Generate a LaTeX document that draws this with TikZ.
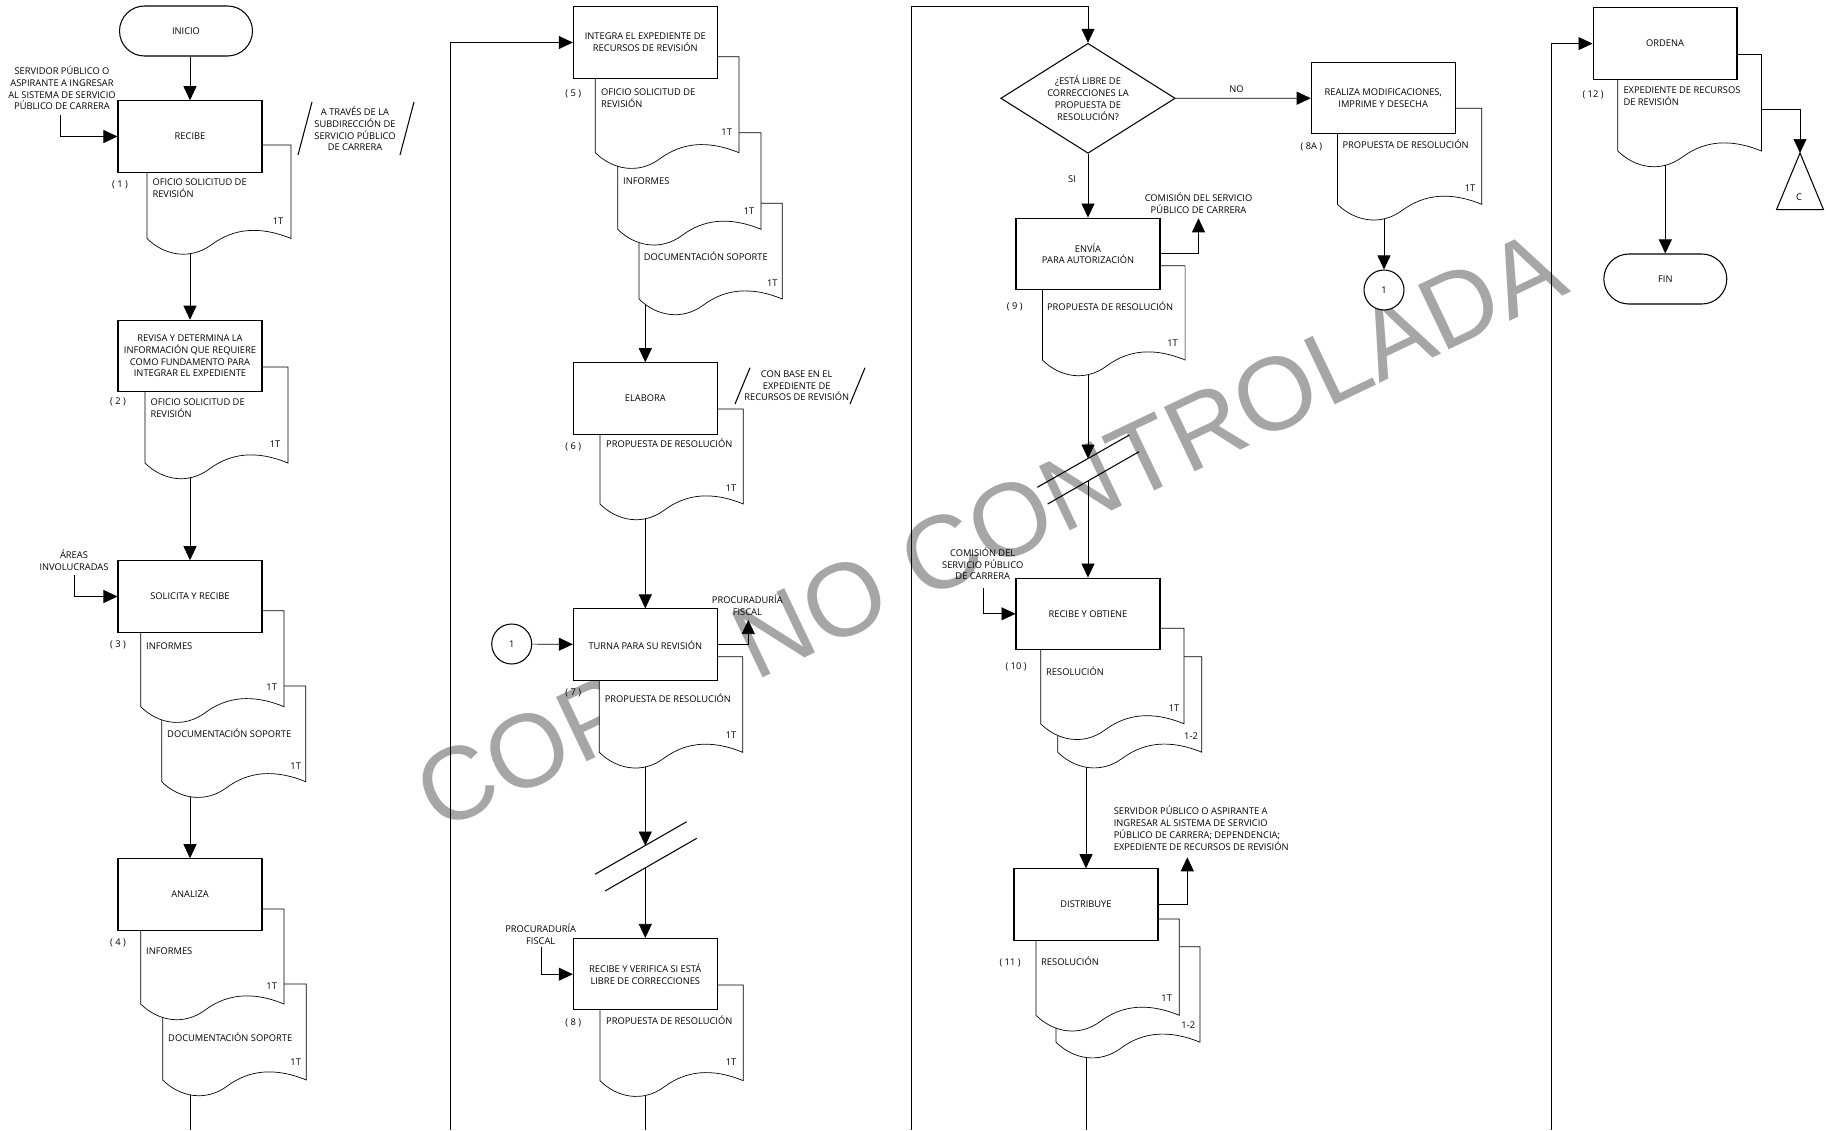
\documentclass[tikz,border=0pt]{standalone}
\usepackage{fontspec}
\setmainfont{Open Sans}
\newfontfamily\wmfont{Liberation Sans}
\usetikzlibrary{arrows.meta,positioning,shapes.geometric}
\pgfdeclarelayer{bg}
\pgfdeclarelayer{docs}
\pgfsetlayers{bg,docs,main}

\begin{document}
\begin{tikzpicture}[x=0.02cm, y=-0.02cm, line width=0.6pt,
    >={Triangle[length=0.28cm,width=0.26cm]},
    font=\fontsize{5.3}{6.7}\selectfont,
    proc/.style={draw, fill=white, minimum width=2.88cm, minimum height=1.43cm, align=center, inner sep=1pt},
    term/.style={draw, fill=white, rounded corners=0.5cm, minimum width=2.66cm, minimum height=1cm},
    conn/.style={draw, circle, fill=white, minimum size=0.8cm, inner sep=0pt},
    dec/.style={draw, diamond, fill=white, aspect=1.59, minimum width=3.49cm, minimum height=2.2cm, inner sep=0pt, align=center},
    txt/.style={inner sep=0pt, align=center},
    lab/.style={inner sep=0pt, anchor=west, align=left},
    num/.style={inner sep=0pt}]
  \newcommand{\docsheet}[4]{% left, top, right, base of the wave
    \filldraw[fill=white] (#1,#2) -- (#1,#4)
      .. controls ({#1+0.12*(#3-#1)},{#4+17}) and ({#1+0.30*(#3-#1)},{#4+22}) .. ({#1+0.45*(#3-#1)},{#4+6})
      .. controls ({#1+0.60*(#3-#1)},{#4-10}) and ({#1+0.78*(#3-#1)},{#4-13}) .. (#3,#4) -- (#3,#2) -- cycle;}
  \useasboundingbox (0,0) rectangle (1826,1130);

  % column 1
  \node[term] (inicio) at (186,31) {INICIO};
  \node[proc] (recibe) at (190,136.5) {RECIBE};
  \node[txt] (servidor) at (62,88) {SERVIDOR PÚBLICO O\\ASPIRANTE A INGRESAR\\AL SISTEMA DE SERVICIO\\PÚBLICO DE CARRERA};
  \node[txt] (atraves) at (355,129) {A TRAVÉS DE LA\\SUBDIRECCIÓN DE\\SERVICIO PÚBLICO\\DE CARRERA};
  \draw (298,155) -- (312,102) (400,155) -- (414,102);
  \node[num] (n1) at (120,185) {( 1 )};
  \node[lab] (t1) at (152,188) {OFICIO SOLICITUD DE\\REVISIÓN};
  \node[num] (k1) at (278,221) {1T};
  \node[proc] (revisa) at (190,356) {REVISA Y DETERMINA LA\\INFORMACIÓN QUE REQUIERE\\COMO FUNDAMENTO PARA\\INTEGRAR EL EXPEDIENTE};
  \node[num] (n2) at (118,402) {( 2 )};
  \node[lab] (t2) at (150,408) {OFICIO SOLICITUD DE\\REVISIÓN};
  \node[num] (k2) at (275,444) {1T};
  \node[proc] (solicita) at (190,596.5) {SOLICITA Y RECIBE};
  \node[txt] (areas) at (74,560) {ÁREAS\\INVOLUCRADAS};
  \node[num] (n3) at (118,645) {( 3 )};
  \node[lab] (t3a) at (145.7,645.7) {INFORMES};
  \node[num] (k3a) at (271.7,686.7) {1T};
  \node[lab] (t3b) at (166.7,733) {DOCUMENTACIÓN SOPORTE};
  \node[num] (k3b) at (295.7,765.7) {1T};
  \node[proc] (analiza) at (190,894.5) {ANALIZA};
  \node[num] (n4) at (118,943) {( 4 )};
  \node[lab] (t4a) at (145.7,950.7) {INFORMES};
  \node[num] (k4a) at (271.7,986) {1T};
  \node[lab] (t4b) at (167.7,1037) {DOCUMENTACIÓN SOPORTE};
  \node[num] (k4b) at (295.7,1062) {1T};

  % column 2
  \node[proc] (integra) at (645.3,42.5) {INTEGRA EL EXPEDIENTE DE\\RECURSOS DE REVISIÓN};
  \node[num] (n5) at (573.3,94) {( 5 )};
  \node[lab] (t5a) at (600.7,98.3) {OFICIO SOLICITUD DE\\REVISIÓN};
  \node[num] (k5a) at (726.7,132.3) {1T};
  \node[lab] (t5b) at (622.7,180.7) {INFORMES};
  \node[num] (k5b) at (749,211.3) {1T};
  \node[lab] (t5c) at (643.3,256.7) {DOCUMENTACIÓN SOPORTE};
  \node[num] (k5c) at (772.3,282.7) {1T};
  \node[proc] (elabora) at (645.3,398.5) {ELABORA};
  \node[txt] (conbase) at (796.7,385.7) {CON BASE EN EL\\EXPEDIENTE DE\\RECURSOS DE REVISIÓN};
  \draw (735,404) -- (750,367.7) (850,404) -- (865,367.7);
  \node[num] (n6) at (573.3,447.3) {( 6 )};
  \node[lab] (t6) at (605.7,443.3) {PROPUESTA DE RESOLUCIÓN};
  \node[num] (k6) at (731,487.7) {1T};
  \node[proc] (turna) at (645.3,644.7) {TURNA PARA SU REVISIÓN};
  \node[conn] (c1) at (511.7,644) {1};
  \node[txt] (pf7txt) at (747.3,605.5) {PROCURADURÍA\\FISCAL};
  \node[num] (n7) at (573.3,693.3) {( 7 )};
  \node[lab] (t7) at (604.3,697.7) {PROPUESTA DE RESOLUCIÓN};
  \node[num] (k7) at (731,735) {1T};
  \draw (595,874.3) -- (686.7,821.7) (605,891) -- (696.7,838.3);
  \node[proc] (verifica) at (645.3,974.2) {RECIBE Y VERIFICA SI ESTÁ\\LIBRE DE CORRECCIONES};
  \node[txt] (pf8txt) at (540.7,934) {PROCURADURÍA\\FISCAL};
  \node[num] (n8) at (573.3,1022.7) {( 8 )};
  \node[lab] (t8) at (605.7,1020) {PROPUESTA DE RESOLUCIÓN};
  \node[num] (k8) at (731,1062.3) {1T};

  % column 3
  \node[dec] (decide) at (1088,98.3) {¿ESTÁ LIBRE DE\\CORRECCIONES LA\\PROPUESTA DE\\RESOLUCIÓN?};
  \node[proc] (realiza) at (1383.2,98.2) {REALIZA MODIFICACIONES,\\IMPRIME Y DESECHA};
  \node[num] (n8a) at (1311.4,146.7) {( 8A )};
  \node[lab] (t8a) at (1342,144) {PROPUESTA DE RESOLUCIÓN};
  \node[num] (k8a) at (1470,188.3) {1T};
  \node[conn] (c1b) at (1384,290) {1};
  \node[num] (si) at (1072,179) {SI};
  \node[proc] (envia) at (1088,253.8) {ENVÍA\\PARA AUTORIZACIÓN};
  \node[txt] (cs9txt) at (1198.5,203) {COMISIÓN DEL SERVICIO\\PÚBLICO DE CARRERA};
  \node[num] (n9) at (1014.8,306.7) {( 9 )};
  \node[lab] (t9) at (1046.6,306) {PROPUESTA DE RESOLUCIÓN};
  \node[num] (k9) at (1172.5,343.3) {1T};
  \draw (1037.3,487.3) -- (1129.3,435) (1047.7,504) -- (1139,451.7);
  \node[proc] (obtiene) at (1088,613.8) {RECIBE Y OBTIENE};
  \node[txt] (cm10txt) at (982.7,563.7) {COMISIÓN DEL\\SERVICIO PÚBLICO\\DE CARRERA};
  \node[num] (n10) at (1016,666.7) {( 10 )};
  \node[lab] (t10) at (1045.7,670.7) {RESOLUCIÓN};
  \node[num] (k10a) at (1174,708.3) {1T};
  \node[num] (k10b) at (1191,736) {1-2};
  \node[proc] (distribuye) at (1086,904.5) {DISTRIBUYE};
  \node[lab] (sp11txt) at (1113.3,828.3) {SERVIDOR PÚBLICO O ASPIRANTE A\\INGRESAR AL SISTEMA DE SERVICIO\\PÚBLICO DE CARRERA; DEPENDENCIA;\\EXPEDIENTE DE RECURSOS DE REVISIÓN};
  \node[num] (n11) at (1010,962.7) {( 11 )};
  \node[lab] (t11) at (1040.7,960.7) {RESOLUCIÓN};
  \node[num] (k11a) at (1166.7,998.3) {1T};
  \node[num] (k11b) at (1188.3,1025) {1-2};

  % column 4
  \node[proc] (ordena) at (1665,43.6) {ORDENA};
  \node[num] (n12) at (1593,95) {( 12 )};
  \node[lab] (t12) at (1623,96) {EXPEDIENTE DE RECURSOS\\DE REVISIÓN};
  \node[term, minimum width=2.46cm] (fin) at (1665.3,279) {FIN};
  \coordinate (capex) at (1800,153);
  \draw (capex) -- (1823.5,209.7) -- (1776.5,209.7) -- cycle;
  \node[num] (c) at (1799,197) {C};

  % document sheets
  \begin{pgfonlayer}{docs}
    \docsheet{147}{145}{291}{238.5}
    \docsheet{145}{367}{288}{463}
    \docsheet{161.7}{686}{305.7}{781.7}
    \docsheet{140.7}{610.7}{284}{706.7}
    \docsheet{162.7}{984}{306.3}{1080}
    \docsheet{140.7}{909}{284}{1004}
    \docsheet{639}{203.3}{782.3}{299}
    \docsheet{617.7}{132.7}{761}{229.3}
    \docsheet{595.3}{56.7}{739}{152.7}
    \docsheet{600}{409}{743.3}{504}
    \docsheet{599.3}{656.7}{742.7}{752.3}
    \docsheet{600}{985}{743.3}{1080.7}
    \docsheet{1337.4}{108.3}{1481.7}{204.3}
    \docsheet{1042.4}{265.7}{1185.1}{360}
    \docsheet{1057.7}{656.7}{1201.7}{752.2}
    \docsheet{1040.7}{628.3}{1184}{723.8}
    \docsheet{1056}{946.7}{1200}{1042.2}
    \docsheet{1036}{919}{1179.3}{1015.3}
    \docsheet{1617.8}{54.4}{1761.4}{151}
  \end{pgfonlayer}

  % watermark and connectors
  \begin{pgfonlayer}{bg}
    \fill[white] (0,0) rectangle (1826,1130);
    \node[rotate=25.5, text=black!35, inner sep=0pt,
          font=\wmfont\fontsize{59}{59}\selectfont] (marca) at (990,530) {COPIA NO CONTROLADA};
    \draw[->] (recibe.north |- inicio.south) -- (recibe.north);
    \coordinate (sv) at (60,115);
    \draw[->] (sv) |- (recibe.west);
    \coordinate (d1b) at (190,240);
    \draw[->] (d1b) -- (revisa);
    \coordinate (d2b) at (190,465);
    \draw[->] (d2b) -- (solicita);
    \coordinate (ar) at (74,575);
    \draw[->] (ar) |- (solicita.west);
    \coordinate (d3b) at (190,785);
    \draw[->] (d3b) -- (analiza);
    \coordinate (d4b) at (190,1085);
    \coordinate (pg1b) at (190,1130);
    \draw (d4b) -- (pg1b);

    \coordinate (pg2) at (450,1130);
    \draw[->] (pg2) |- (integra.west);
    \coordinate (d5b) at (645.3,300);
    \draw[->] (d5b) -- (elabora);
    \coordinate (d6b) at (645.3,510);
    \draw[->] (d6b) -- (turna);
    \draw[->] (c1) -- (turna);
    \coordinate (pf7) at (748.3,620);
    \draw[->] (turna.east) -| (pf7);
    \coordinate (d7b) at (645.3,758);
    \coordinate (cut7) at (645.3,845.6);
    \draw[->] (d7b) -- (cut7);
    \coordinate (cut7b) at (645.3,868);
    \draw[->] (cut7b) -- (verifica);
    \coordinate (pf8) at (541.7,947.3);
    \draw[->] (pf8) |- (verifica.west);
    \coordinate (d8b) at (645.3,1085);
    \coordinate (pg2b) at (645.3,1130);
    \draw (d8b) -- (pg2b);

    \coordinate (pg3) at (911.5,1130);
    \coordinate (pg3t) at (911.5,6.5);
    \draw[->] (pg3) -- (pg3t) -| (decide.north);
    \draw[->] (decide.east) -- node[pos=0.45, above=3pt, inner sep=0pt] {NO} (realiza.west);
    \draw[->] (decide.south) -- (envia.north);
    \coordinate (d8ab) at (1384,212);
    \draw[->] (d8ab) -- (c1b);
    \coordinate (cs9) at (1198.5,218.3);
    \draw[->] (envia.east) -| (cs9);
    \coordinate (d9b) at (1088,365);
    \coordinate (cut9) at (1088,458.5);
    \draw[->] (d9b) -- (cut9);
    \coordinate (cut9b) at (1088,481);
    \draw[->] (cut9b) -- (obtiene.north);
    \coordinate (cm10) at (983.3,588.3);
    \draw[->] (cm10) |- (obtiene.west);
    \coordinate (d10b) at (1086,760);
    \draw[->] (d10b) -- (distribuye.north);
    \coordinate (sp11) at (1187.3,857.3);
    \draw[->] (distribuye.east) -| (sp11);
    \coordinate (d11b) at (1086,1050);
    \coordinate (pg3b) at (1086,1130);
    \draw (d11b) -- (pg3b);

    \coordinate (pg4) at (1551,1130);
    \draw[->] (pg4) |- (ordena.west);
    \coordinate (d12b) at (1665.3,158);
    \draw[->] (d12b) -- (fin.north);
    \coordinate (d12r) at (1761.4,109);
    \draw[->] (d12r) -| (capex);
  \end{pgfonlayer}
\end{tikzpicture}
\end{document}
